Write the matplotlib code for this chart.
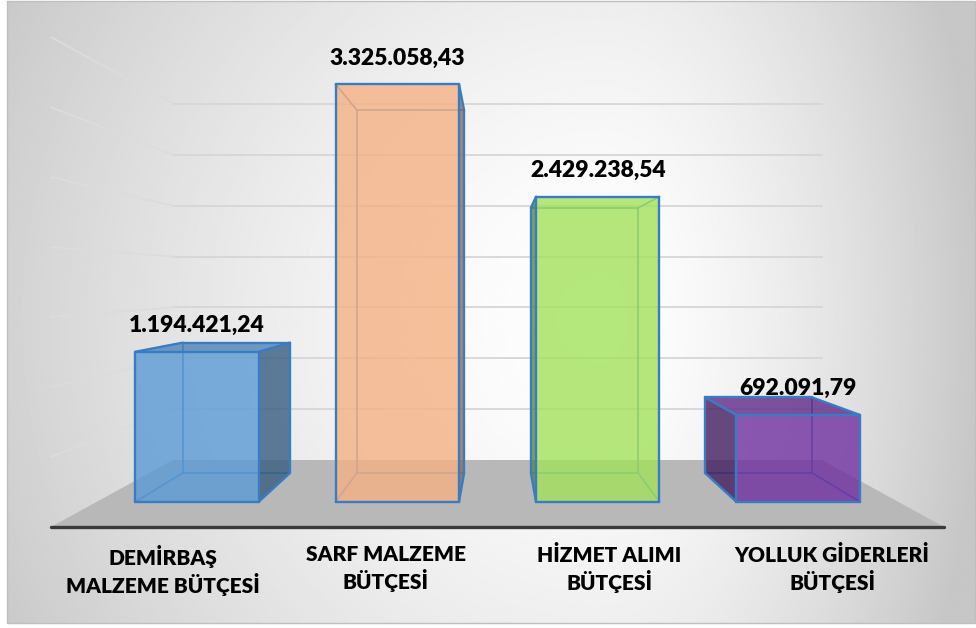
import numpy as np
import matplotlib.pyplot as plt
from matplotlib.patches import Polygon, Rectangle
from matplotlib.colors import to_rgb

# ==========================================
# Data
# ==========================================

categories = ["DEMİRBAŞ\nMALZEME BÜTÇESİ", "SARF MALZEME\nBÜTÇESİ",
              "HİZMET ALIMI\nBÜTÇESİ", "YOLLUK GİDERLERİ\nBÜTÇESİ"]
values = [1194421.24, 3325058.43, 2429238.54, 692091.79]
value_labels = ["1.194.421,24", "3.325.058,43", "2.429.238,54", "692.091,79"]
bar_colors = ["#5B9BD5", "#F4B183", "#A2E15B", "#7030A0"]
grid_step = 500000
y_max = 3500000

# ==========================================
# Figure / axes (back wall mapped onto pixel layout)
# ==========================================

plt.rcParams['font.family'] = ['Lato', 'DejaVu Sans']

W, H = 976, 628
fig = plt.figure(figsize=(W / 100, H / 100), dpi=100)
ax = fig.add_axes([0, 0, 1, 1])
ax.set_axis_off()

n = len(categories)
wall_left, wall_right, wall_floor, wall_top = 173, 822, 460, 104
px_per_cat = (wall_right - wall_left) / n
px_per_val = (wall_floor - wall_top) / y_max

# perspective: vanishing point in the middle of the back wall
vx, vy = n / 2, y_max / 2
s_back, s_front, s_floor = 1.073, 1.235, 1.375
half = 0.308
edge_col = "#3a7cc4"


def proj(x, y, s):
    return vx + (x - vx) * s, vy + (y - vy) * s


def shade(c, f):
    r, g, b = to_rgb(c)
    return (r * f, g * f, b * f)


# background radial gradient
yy, xx = np.mgrid[0:H, 0:W]
cx, cy = 600, 320
rx = np.where(xx < cx, 700, 380)
t = np.sqrt(((xx - cx) / rx) ** 2 + ((yy - cy) / 700) ** 2)
bg = 1 - 0.22 * np.clip(t, 0, 1) ** 1.5
ax.imshow(bg, cmap="gray", vmin=0, vmax=1, aspect="auto",
          extent=(7 / W, 975 / W, 5 / H, 627 / H),
          transform=ax.transAxes, zorder=0, interpolation="bilinear")
ax.add_patch(Rectangle((7 / W, 5 / H), 968 / W, 622 / H, transform=ax.transAxes,
                       fill=False, ec="#bfbfbf", lw=1, zorder=1))

# floor
floor = [proj(0, 0, 1), proj(n, 0, 1), proj(n, 0, s_floor), proj(0, 0, s_floor)]
ax.add_patch(Polygon(floor, closed=True, fc="#b8b8b8", ec="none", zorder=2))
fx0, fy = proj(0, 0, s_floor)
fx1, _ = proj(n, 0, s_floor)
ax.plot([fx0, fx1], [fy, fy], color="#3a3a3a", lw=2.4,
        solid_capstyle="round", zorder=3)

# gridlines: back wall + left side wall
for k in range(1, int(y_max / grid_step) + 1):
    y = k * grid_step
    sx, sy = proj(0, y, s_floor)
    ax.plot([0, n], [y, y], color="#d6d6d6", lw=1.3, zorder=2)
    ax.plot([sx, 0], [sy, y], color="#dcdcdc", lw=1.3, zorder=2)

# ==========================================
# 3D bars
# ==========================================

for i, (v, c) in enumerate(zip(values, bar_colors)):
    xl, xr = i + 0.5 - half, i + 0.5 + half
    p = {}
    for dn, s in (("f", s_front), ("b", s_back)):
        for xn, x in (("l", xl), ("r", xr)):
            for yn, y in (("0", 0), ("1", v)):
                p[dn + xn + yn] = proj(x, y, s)

    faces = {
        "front": ["fl0", "fr0", "fr1", "fl1"],
        "top": ["fl1", "fr1", "br1", "bl1"],
        "right": ["fr0", "br0", "br1", "fr1"],
        "left": ["fl0", "bl0", "bl1", "fl1"],
    }
    visible = ["front"]
    if xr < vx:
        visible.append("right")
    if xl > vx:
        visible.append("left")
    if v < vy:
        visible.append("top")

    all_edges = [("fl0", "fr0"), ("fr0", "fr1"), ("fr1", "fl1"), ("fl1", "fl0"),
                 ("bl0", "br0"), ("br0", "br1"), ("br1", "bl1"), ("bl1", "bl0"),
                 ("fl0", "bl0"), ("fr0", "br0"), ("fr1", "br1"), ("fl1", "bl1")]
    vis_edges = set()
    for f in visible:
        pts = faces[f]
        for a, b in zip(pts, pts[1:] + pts[:1]):
            vis_edges.add(frozenset((a, b)))

    # hidden edges, seen through the transparent faces
    for a, b in all_edges:
        if frozenset((a, b)) not in vis_edges:
            ax.plot([p[a][0], p[b][0]], [p[a][1], p[b][1]],
                    color=edge_col, lw=1.2, zorder=4)

    for f in visible:
        fc = c if f == "front" else shade(c, 0.85 if f == "top" else 0.6)
        ax.add_patch(Polygon([p[k] for k in faces[f]], closed=True,
                             fc=fc, ec="none", alpha=0.8, zorder=5))

    for e in vis_edges:
        a, b = tuple(e)
        ax.plot([p[a][0], p[b][0]], [p[a][1], p[b][1]],
                color=edge_col, lw=1.7, zorder=6, solid_capstyle="round")

    # value label above the front top
    lx, ly = proj(i + 0.5, v, s_front)
    ax.annotate(value_labels[i], (lx, ly), xytext=(0, 26),
                textcoords="offset pixels", ha="center", va="center",
                fontsize=16.5, fontweight="heavy", color="black", zorder=7)

    # category label under the floor edge
    cxp, cyp = proj(i + 0.5, 0, s_floor)
    ax.annotate(categories[i], (cxp, cyp), xytext=(0, -18),
                textcoords="offset pixels", ha="center", va="top",
                fontsize=15, fontweight="heavy", color="black",
                linespacing=1.25, zorder=7)

ax.set_xlim(-wall_left / px_per_cat, (W - wall_left) / px_per_cat)
ax.set_ylim(-(H - wall_floor) / px_per_val, wall_floor / px_per_val)

fig.savefig("out.png", dpi=100)
